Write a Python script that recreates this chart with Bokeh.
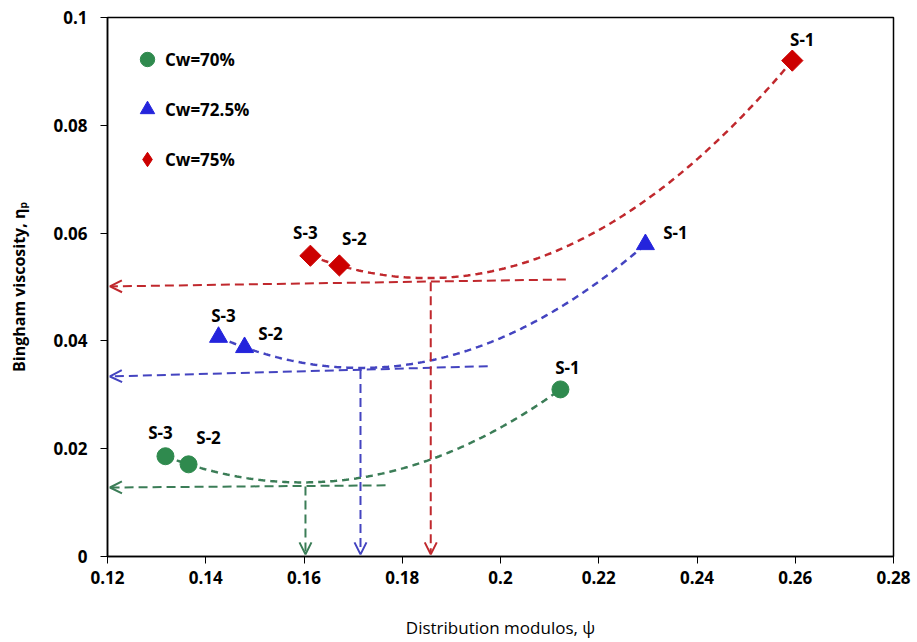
import numpy as np
from bokeh.plotting import figure
from bokeh.models import (Range1d, FixedTicker, Arrow, OpenHead, Legend,
                          LegendItem, ColumnDataSource)
from bokeh.embed import file_html
from bokeh.resources import INLINE
from bokeh.core.properties import value

# ---------------- data ----------------
samples = ["S-3", "S-2", "S-1"]
series_names = ["Cw=70%", "Cw=72.5%", "Cw=75%"]

psi_70 = [0.1318, 0.1365, 0.2122]
eta_70 = [0.0186, 0.0171, 0.0310]
psi_725 = [0.1426, 0.1479, 0.2295]
eta_725 = [0.0407, 0.0388, 0.0579]
psi_75 = [0.1613, 0.1672, 0.2594]
eta_75 = [0.0558, 0.0540, 0.0920]

# optimum (minimum) read-outs: vertical arrows to psi axis
opt_psi = [0.1603, 0.1715, 0.1858]
opt_eta_top = [0.0130, 0.0346, 0.0509]
# horizontal arrows to eta axis (right end x, right end y, left end y)
h_start_psi = [0.1766, 0.1974, 0.2133]
h_start_eta = [0.0132, 0.0353, 0.0514]
h_end_eta = [0.0128, 0.0334, 0.0501]

x_ticks = [0.12, 0.14, 0.16, 0.18, 0.20, 0.22, 0.24, 0.26, 0.28]
x_tick_labels = ["0.12", "0.14", "0.16", "0.18", "0.2", "0.22", "0.24", "0.26", "0.28"]
y_ticks = [0.0, 0.02, 0.04, 0.06, 0.08, 0.1]
y_tick_labels = ["0", "0.02", "0.04", "0.06", "0.08", "0.1"]

# ---------------- styles ----------------
FONT = "Open Sans"
marker_colors = ["#2f8a4e", "#2424dc", "#cc0000"]
line_colors = ["#3b7d57", "#4444c0", "#c0282d"]
markers = ["circle", "triangle", "square"]
marker_angles = [0.0, 0.0, np.pi / 4]
marker_sizes = [17, 18, 15]
label_dx = [[-5, 20, 7], [5, 26, 30], [-5, 15, 10]]
label_dy = [[-24, -27, -22], [-22, -14, -12], [-23, -27, -21]]

p = figure(width=917, height=642,
           x_range=Range1d(0.12, 0.28), y_range=Range1d(0, 0.1),
           output_backend="svg", toolbar_location=None,
           min_border_left=107, min_border_right=24,
           min_border_top=17, min_border_bottom=86)
p.grid.visible = False
p.outline_line_color = "black"
p.outline_line_width = 1.5
p.background_fill_color = "white"
p.border_fill_color = "white"

for ax in (p.xaxis[0], p.yaxis[0]):
    ax.axis_line_width = 1.5
    ax.axis_line_color = "black"
    ax.major_tick_out = 7
    ax.major_tick_in = 0
    ax.major_tick_line_width = 1
    ax.minor_tick_line_color = None
    ax.major_label_text_font = FONT
    ax.major_label_text_font_style = "bold"
    ax.major_label_text_font_size = "17px"
    ax.major_label_text_color = "black"
    ax.axis_label_text_font = FONT
    ax.axis_label_text_color = "black"

p.xaxis.ticker = FixedTicker(ticks=x_ticks)
p.xaxis.major_label_overrides = {t: l for t, l in zip(x_ticks, x_tick_labels)}
p.yaxis.ticker = FixedTicker(ticks=y_ticks)
p.yaxis.major_label_overrides = {t: l for t, l in zip(y_ticks, y_tick_labels)}
p.xaxis.major_label_standoff = 7
p.yaxis.major_label_standoff = 13

p.xaxis.axis_label = "Distribution modulos, \u03c8"
p.xaxis.axis_label_text_font_style = "normal"
p.xaxis.axis_label_text_font_size = "17px"
p.xaxis.axis_label_standoff = 29
p.yaxis.axis_label = "Bingham viscosity, \u03b7\u209a"
p.yaxis.axis_label_text_font_style = "bold"
p.yaxis.axis_label_text_font_size = "16px"
p.yaxis.axis_label_standoff = 20

all_psi = [psi_70, psi_725, psi_75]
all_eta = [eta_70, eta_725, eta_75]

legend_items = []
for i in range(3):
    # polynomial (2nd order) trendline through the series, as in the original
    coef = np.polyfit(all_psi[i], all_eta[i], 2)
    xs = np.linspace(min(all_psi[i]), max(all_psi[i]), 200)
    p.line(xs, np.polyval(coef, xs), line_color=line_colors[i],
           line_width=2.5, line_dash="7 5")

    # guide arrows
    head_v = OpenHead(size=12, line_color=line_colors[i], line_width=2)
    p.add_layout(Arrow(end=head_v, x_start=opt_psi[i], y_start=opt_eta_top[i],
                       x_end=opt_psi[i], y_end=0.0004,
                       line_color=line_colors[i], line_width=2,
                       line_dash="9 5"))
    head_h = OpenHead(size=12, line_color=line_colors[i], line_width=2)
    p.add_layout(Arrow(end=head_h, x_start=h_start_psi[i], y_start=h_start_eta[i],
                       x_end=0.1205, y_end=h_end_eta[i],
                       line_color=line_colors[i], line_width=2,
                       line_dash="9 5"))

for i in range(3):
    r = p.scatter(all_psi[i], all_eta[i], marker=markers[i], size=marker_sizes[i],
                  angle=marker_angles[i],
                  fill_color=marker_colors[i], line_color=marker_colors[i])
    if markers[i] == "square":
        # legend glyphs are drawn unrotated, so use a diamond proxy (not plotted)
        legend_r = p.scatter(x=[np.nan], y=[np.nan], marker="diamond",
                             fill_color=marker_colors[i], line_color=marker_colors[i])
    else:
        legend_r = r
    legend_items.append(LegendItem(label=series_names[i], renderers=[legend_r]))

    src = ColumnDataSource(dict(x=all_psi[i], y=all_eta[i], t=samples,
                                dx=label_dx[i], dy=label_dy[i]))
    p.text(x="x", y="y", text="t", x_offset="dx", y_offset="dy", source=src,
           text_align="center", text_baseline="middle",
           text_font=value(FONT), text_font_style="bold",
           text_font_size="17px", text_color="black")

legend = Legend(items=legend_items, location=(22, 379),
                glyph_width=36, glyph_height=36, spacing=14,
                label_standoff=0, margin=0, padding=10,
                border_line_color=None, background_fill_alpha=0,
                label_text_font=FONT, label_text_font_style="bold",
                label_text_font_size="17px", label_text_color="black")
p.add_layout(legend)

open("out.html", "w").write(file_html(p, INLINE))
